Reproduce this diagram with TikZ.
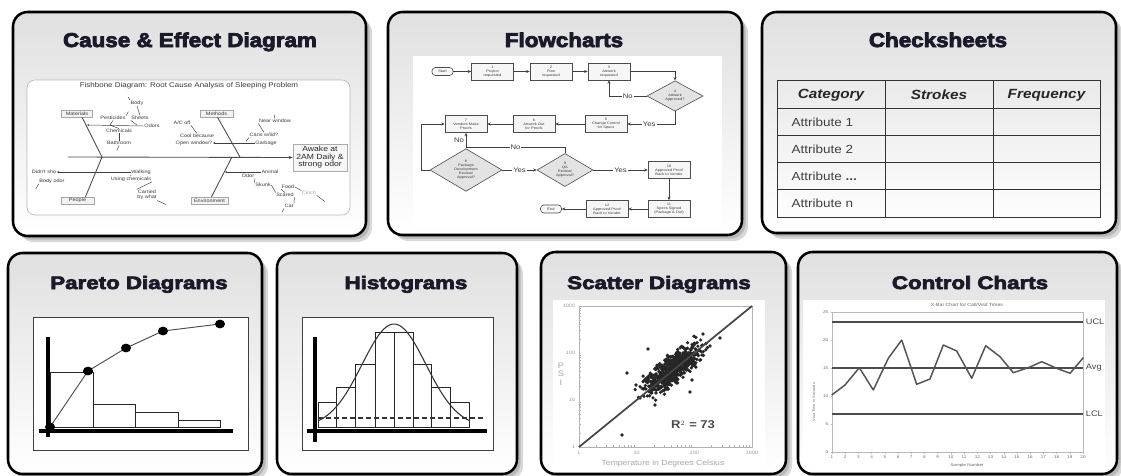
\documentclass[tikz,border=0pt]{standalone}
\usepackage{fontspec}
\setmainfont{Liberation Sans}
\newfontfamily\ttlA[FakeStretch=1.12,FakeBold=4]{Liberation Sans}
\newfontfamily\ttlB[FakeStretch=1.24,FakeBold=4]{Liberation Sans}
\newfontfamily\wide[FakeStretch=1.15]{Liberation Sans}
\usetikzlibrary{arrows.meta,shapes.geometric,calc}
\definecolor{titleink}{HTML}{1A1A2A}
\definecolor{shadowgray}{HTML}{B8B8B8}
\definecolor{panelgray}{HTML}{E0E0E0}
\definecolor{inkgray}{HTML}{3A3A3A}

\tikzset{
  panelshadow/.style={fill=shadowgray, rounded corners=11pt},
  panelshadowsoft/.style={fill=shadowgray!55, rounded corners=11pt},
  panelframe/.style={draw=black, line width=1.9pt, rounded corners=11pt, top color=panelgray, bottom color=white},
  toptitle/.style={anchor=base, text=titleink, inner sep=0pt, font=\ttlA\bfseries\fontsize{15}{18}\selectfont},
  bottitle/.style={anchor=base, text=titleink, inner sep=0pt, font=\ttlB\bfseries\fontsize{13.5}{16}\selectfont},
  % fishbone
  fbtxt/.style={font=\wide\fontsize{3.6}{4}\selectfont, inner sep=0.3pt, text=inkgray, align=center},
  fbcat/.style={draw=gray!70, fill=gray!10, line width=0.4pt, font=\wide\fontsize{3.6}{4}\selectfont, minimum height=5.2pt, inner sep=0.5pt, text=inkgray},
  fbeffect/.style={draw=gray!65, fill=gray!6, line width=0.5pt, font=\wide\fontsize{5.6}{5.6}\selectfont, align=center, minimum width=40.5pt, minimum height=20pt, inner sep=0.5pt, text=black!85},
  fbbone/.style={draw=black!70, line width=0.65pt},
  fbtwig/.style={draw=gray!50!black, line width=0.35pt},
  % flowchart
  fcbox/.style={draw=black!70, fill=gray!7, line width=0.45pt, minimum width=31.5pt, minimum height=12.75pt, inner sep=0pt, font=\wide\fontsize{2.6}{3}\selectfont, align=center, text=inkgray},
  fcdia/.style={diamond, draw=black!70, fill=gray!22, line width=0.45pt, inner sep=0pt, font=\wide\fontsize{2.6}{3}\selectfont, align=center, text=inkgray},
  fcterm/.style={draw=black!70, fill=gray!7, line width=0.45pt, rounded corners=2.5pt, minimum width=15.75pt, minimum height=6pt, inner sep=0pt, font=\wide\fontsize{2.6}{3}\selectfont, text=inkgray},
  fcarrow/.style={draw=black!75, line width=0.6pt, -{Stealth[length=2.6pt,width=2.2pt]}},
  fcline/.style={draw=black!75, line width=0.6pt},
  fclab/.style={font=\wide\fontsize{5}{5}\selectfont, fill=white, inner sep=0.8pt, text=inkgray},
  % checksheet
  tbline/.style={draw=black!80, line width=0.7pt},
  tbhead/.style={font=\wide\bfseries\itshape\fontsize{10}{12}\selectfont, text=black!85},
  tbcell/.style={anchor=west, font=\wide\fontsize{8.8}{10}\selectfont, text=black!75},
  % charts
  chartframe/.style={draw=gray!50!black, line width=0.6pt, fill=white},
  axisbar/.style={draw=black, line width=3pt},
  barline/.style={draw=black!85, line width=0.7pt},
  sctick/.style={font=\wide\fontsize{3.6}{4}\selectfont, text=gray!80, inner sep=0.5pt},
  cctick/.style={font=\wide\fontsize{3}{3.5}\selectfont, text=gray!80!black, inner sep=0.4pt},
  cclab/.style={anchor=west, font=\wide\fontsize{6}{7}\selectfont, text=black!75, inner sep=0.5pt},
}

\newcommand\qcpanel[4]{%
  \fill[panelshadowsoft] (#1+6,#2+6) rectangle (#3+6,#4+6);
  \fill[panelshadow] (#1+3.5,#2+3.5) rectangle (#3+3.5,#4+3.5);
  \path[panelframe] (#1,#2) rectangle (#3,#4);}

\begin{document}
\begin{tikzpicture}[x=0.75pt,y=-0.75pt]
\useasboundingbox (0,0) rectangle (1121,475);
\fill[white] (0,0) rectangle (1121,475);

% ---------- the seven panels ----------
\qcpanel{13}{12}{366}{236}
\qcpanel{388}{12}{742}{235}
\qcpanel{762}{12}{1116}{233}
\qcpanel{8}{253}{262}{474}
\qcpanel{277}{253}{517}{474}
\qcpanel{541}{252}{786}{474}
\qcpanel{798}{252}{1117}{474}

\node[toptitle] (tCause) at (190,47) {Cause \& Effect Diagram};
\node[toptitle] (tFlow) at (564,47) {Flowcharts};
\node[toptitle] (tCheck) at (938,47) {Checksheets};
\node[bottitle] (tPareto) at (139,289) {Pareto Diagrams};
\node[bottitle] (tHisto) at (406,289) {Histograms};
\node[bottitle] (tScatter) at (659,289) {Scatter Diagrams};
\node[bottitle] (tControl) at (970,289) {Control Charts};

% ---------- fishbone ----------
\path[fill=white, draw=gray!55, line width=0.5pt, rounded corners=6pt] (27,80) rectangle (350,215);
\node[fbtxt, font=\wide\fontsize{5.2}{6}\selectfont] (fbHead) at (189,85.5) {Fishbone Diagram: Root Cause Analysis of Sleeping Problem};

\node[fbeffect] (fbEff) at (320,157.5) {Awake at\\2AM Daily \&\\strong odor};
\coordinate (fbTail) at (68,157);
\draw[fbbone, -{Stealth[length=3pt,width=2.4pt]}] (fbTail) -- (fbEff.west);

\node[fbcat, minimum width=23pt] (fbMat) at (77,113.5) {Materials};
\node[fbcat, minimum width=25pt] (fbMeth) at (216.5,113.5) {Methods};
\node[fbcat, minimum width=25pt] (fbPeople) at (77.5,200.5) {People};
\node[fbcat, minimum width=28pt] (fbEnv) at (209.5,200.5) {Environment};
\coordinate (jm) at (102,157);
\coordinate (jt) at (240,157);
\coordinate (je) at (232,157);
\draw[fbbone] ($(fbMat.south)+(5,0)$) -- (jm);
\draw[fbbone] ($(fbPeople.north)+(8,0)$) -- (jm);
\draw[fbbone] ($(fbMeth.south)+(1,0)$) -- (jt);
\draw[fbbone] ($(fbEnv.north)+(2,0)$) -- (je);

% materials branch
\node[fbtxt] (fbBody) at (137,103) {Body};
\node[fbtxt] (fbPest) at (113,118) {Pesticides};
\node[fbtxt] (fbSheets) at (140,118) {Sheets};
\node[fbtxt] (fbOdors) at (152,126) {Odors};
\node[fbtxt] (fbChem) at (119,131) {Chemicals};
\node[fbtxt] (fbBath) at (119,143) {Bathroom};
\coordinate (mb1) at (87,125);
\coordinate (mb2) at (137,125);
\coordinate (mb3) at (110,125);
\draw[fbtwig, -{Stealth[length=1.6pt,width=1.4pt]}] (fbOdors.west) -- (mb1);
\draw[fbtwig] (fbBody.south) -- (fbSheets.north);
\draw[fbtwig] (fbSheets.south west) -- (mb2);
\draw[fbtwig] (fbPest.south) -- (mb3);
\draw[fbtwig] (fbChem.north) -- (mb3);
\draw[fbtwig] (fbChem.south) -- (fbBath.north);
\draw[fbtwig] (fbPest.north east) -- ++(2,-4);
\draw[fbtwig] (fbBody.north west) -- ++(-2,-3);
\draw[fbtwig] (fbBath.south) -- ++(-2,5);

% methods branch
\node[fbtxt] (fbAC) at (182,123) {A/C off};
\node[fbtxt] (fbCool) at (197,136) {Cool because};
\node[fbtxt] (fbOpen) at (194,143) {Open window?};
\node[fbtxt] (fbNear) at (275,121) {Near window};
\node[fbtxt] (fbCans) at (264,135) {Cans w/lid?};
\node[fbtxt] (fbGarb) at (266,143) {Garbage};
\draw[fbtwig, -{Stealth[length=1.6pt,width=1.4pt]}] (fbGarb.west) -- (fbOpen.east);
\draw[fbtwig] (fbAC.south east) -- (fbCool.north);
\draw[fbtwig] (fbNear.south west) -- (fbCans.north);
\draw[fbtwig] (fbNear.north) -- ++(-1,-4);
\draw[fbtwig] (fbCans.south west) -- ++(-3,4);

% people branch
\node[fbtxt] (fbDidnt) at (44,172) {Didn't sho};
\node[fbtxt] (fbBodyOdor) at (52,181) {Body odor};
\node[fbtxt] (fbWalk) at (141,172) {Walking};
\node[fbtxt] (fbUsing) at (131,179) {Using chemicals};
\node[fbtxt] (fbCarried) at (147,195) {Carried\\by what};
\draw[fbtwig, -{Stealth[length=1.6pt,width=1.4pt]}] (fbWalk.west) -- (fbDidnt.east);
\draw[fbtwig] (fbBodyOdor.south west) -- ++(-3,5);
\draw[fbtwig] (fbWalk.south west) -- (fbUsing.north);
\draw[fbtwig] (fbUsing.south east) -- (fbCarried.north west);
\draw[fbtwig] (fbCarried.south east) -- ++(9,4);

% environment branch
\node[fbtxt] (fbAnimal) at (270,172) {Animal};
\node[fbtxt] (fbOdor) at (248,176) {Odor};
\node[fbtxt] (fbSkunk) at (263,185) {Skunk};
\node[fbtxt] (fbFood) at (288,187) {Food};
\node[fbtxt] (fbScared) at (285,195) {Scared};
\node[fbtxt, text=gray!70] (fbCinch) at (309,193) {Cinch};
\node[fbtxt] (fbCat) at (289,206) {Cat};
\coordinate (eb1) at (225,172);
\draw[fbtwig, -{Stealth[length=1.6pt,width=1.4pt]}] (fbAnimal.west) -- (eb1);
\draw[fbtwig] (fbOdor.south east) -- (fbSkunk.north west);
\draw[fbtwig] (fbSkunk.east) -- (fbScared.north west);
\draw[fbtwig] (fbScared.north) -- (fbFood.south west);
\draw[fbtwig] (fbFood.east) -- (fbCinch.north west);
\draw[fbtwig] (fbCinch.south east) -- ++(8,6);
\draw[fbtwig] (fbScared.south east) -- (fbCat.north east);
\draw[fbtwig] (fbCat.south west) -- ++(-2,4);

% ---------- flowchart ----------
\fill[white] (413,56) rectangle (722,227);
\node[fcterm] (fStart) at (442.5,71.5) {Start};
\node[fcbox] (f1) at (492.5,71.5) {1\\Project\\requested};
\node[fcbox] (f2) at (551,71.5) {2\\Plan\\requested};
\node[fcbox] (f3) at (609,71.5) {3\\Artwork\\requested};
\node[fcdia, minimum width=42pt, minimum height=21pt] (f4) at (675,96) {4\\Artwork\\Approved?};
\node[fcbox] (f5) at (606,124) {5\\Change Control\\for Specs};
\node[fcbox] (f6) at (534,124) {6\\Artwork Out\\for Proofs};
\node[fcbox] (f7) at (466,124) {7\\Vendors Make\\Proofs};
\node[fcdia, minimum width=54pt, minimum height=27pt] (f8) at (466,170) {8\\Package\\Development\\Review/\\Approval?};
\node[fcdia, minimum width=42pt, minimum height=19.5pt] (f9) at (565,170) {9\\QA\\Review/\\Approval?};
\node[fcbox] (f10) at (669,170) {10\\Approved Proof\\Back to Vendor};
\node[fcbox] (f11) at (669,209) {11\\Specs Signed\\(Package \& Out)};
\node[fcbox] (f12) at (607,209) {12\\Approved Proof\\Back to Vendor};
\node[fcterm] (fEnd) at (551,209) {End};
\coordinate (fjn) at (466,147);

\draw[fcarrow] (fStart) -- (f1);
\draw[fcarrow] (f1) -- (f2);
\draw[fcarrow] (f2) -- (f3);
\draw[fcarrow] (f3.east) -| (f4.north);
\draw[fcarrow] (f4.west) -- node[fclab]{No} (f3.south |- f4.west) -- (f3.south);
\draw[fcarrow] (f4.south) |- node[fclab, pos=0.77]{Yes} (f5.east);
\draw[fcarrow] (f5) -- (f6);
\draw[fcarrow] (f6) -- (f7);
\draw[fcarrow] (f8.west) -- ++(-8,0) |- (f7.west);
\draw[fcarrow] (f8.north) -- node[fclab, fill=none, left=0.5pt]{No} (f7.south);
\draw[fcline] (f9.north) |- node[fclab, pos=0.75]{No} (fjn);
\draw[fcarrow] (f8.east) -- node[fclab]{Yes} (f9.west);
\draw[fcarrow] (f9.east) -- node[fclab]{Yes} (f10.west);
\draw[fcarrow] (f10) -- (f11);
\draw[fcarrow] (f11) -- (f12);
\draw[fcarrow] (f12) -- (fEnd);

% ---------- checksheet ----------
\draw[tbline] (777,80) rectangle (1100,217);
\foreach \xx in {885,993} \draw[tbline] (\xx,80) -- (\xx,217);
\foreach \yy in {108,135,162,189} \draw[tbline] (777,\yy) -- (1100,\yy);
\node[tbhead] (thCat) at (831,95) {Category};
\node[tbhead] (thStr) at (939,95) {Strokes};
\node[tbhead] (thFrq) at (1046.5,95) {Frequency};
\node[tbcell] (ta1) at (787,122) {Attribute 1};
\node[tbcell] (ta2) at (787,149) {Attribute 2};
\node[tbcell] (ta3) at (787,176) {Attribute \textbf{...}};
\node[tbcell] (ta4) at (787,203) {Attribute n};

% ---------- pareto ----------
\path[chartframe] (33,317) rectangle (248,450);
\draw[barline] (50,427) rectangle (93,372);
\draw[barline] (93,427) rectangle (135,404);
\draw[barline] (135,427) rectangle (178,412);
\draw[barline] (178,427) rectangle (220,420);
\draw[axisbar] (48,337) -- (48,437);
\draw[axisbar] (39,431) -- (233,431);
\coordinate (pc0) at (50,427);
\coordinate (pc1) at (88,371);
\coordinate (pc2) at (126,348);
\coordinate (pc3) at (163,331);
\coordinate (pc4) at (220,324);
\draw[draw=black!70, line width=0.7pt] (pc0) -- (pc1) -- (pc2) -- (pc3) -- (pc4);
\foreach \p in {pc0,pc1,pc2,pc3,pc4}
  \fill[black] (\p) ellipse[x radius=3.8pt, y radius=3.3pt];

% ---------- histogram ----------
\path[chartframe] (302,317) rectangle (493,450);
\foreach \xa/\xb/\yt in {318.3/336.7/402.3, 336.7/355.7/387.7, 355.7/375/364, 375/394/332.3,
                        394/413.3/332.3, 413.3/431.7/364, 431.7/450/387.7, 450/469/402.3}
  \draw[barline] (\xa,427) rectangle (\xb,\yt);
\draw[draw=black!80, line width=0.8pt, dash pattern=on 3.5pt off 2.5pt] (318,418) -- (486,418);
\draw[draw=black!80, line width=0.8pt, smooth, samples=70, domain=318:470]
  plot (\x, {427-103*exp(-((\x-394)^2)/2048)});
\draw[axisbar] (315,337) -- (315,442);
\draw[axisbar] (307,431) -- (487,431);

% ---------- scatter ----------
\fill[white] (553,300) rectangle (765,468);
\draw[gray!60, line width=0.5pt] (579,306) rectangle (752,447);
\foreach \d in {0,1,2} {
  \foreach \k in {2,...,9} {
    \draw[gray!60, line width=0.35pt] ({579+57.667*(\d+log10(\k))},447) -- ++(0,-2.2);
    \draw[gray!60, line width=0.35pt] (579,{447-47*(\d+log10(\k))}) -- ++(2.2,0);
  }
}
\foreach \v/\n in {1/0,10/1,100/2,1000/3} {
  \node[sctick, anchor=east] (sy\n) at (576,{447-47*\n}) {\v};
  \node[sctick, anchor=north] (sx\n) at ({579+57.667*\n},450) {\v};
}
\node[sctick, font=\wide\fontsize{6}{6.5}\selectfont, text=gray!70, align=center] (sPSI) at (561,374) {P\\S\\I};
\node[sctick, font=\wide\fontsize{5.6}{6}\selectfont, text=gray!70] (sTemp) at (663,464) {Temperature in Degrees Celsius};
\pgfmathsetseed{7}
\foreach \i in {1,...,650} {
  \pgfmathsetmacro\ta{17*(rand+rand+rand)}
  \pgfmathsetmacro\sb{7.5*(rand+rand)}
  \fill[black!85] ({673+0.775*\ta+0.632*\sb},{369-0.632*\ta+0.775*\sb}) circle[radius=1.35pt];
}
\foreach \px/\py in {627/373, 622/435, 703/334, 720/338, 692/380, 648/349, 702/355, 640/398, 655/405, 690/392, 636/385, 710/346}
  \fill[black!85] (\px,\py) circle[radius=1.35pt];
\coordinate (sO) at (579,447);
\coordinate (sE) at (752,306);
\draw[gray!55!black, line width=1.3pt] (sO) -- (sE);
\node[font=\wide\bfseries\fontsize{8.5}{9}\selectfont, text=black!70] (sR) at (693,425) {R$^{\scriptscriptstyle 2}$ = 73};

% ---------- control chart ----------
\fill[white] (803,300) rectangle (1105,469);
\node[cctick, font=\wide\fontsize{3.4}{4}\selectfont] (ccTitle) at (967,305) {X-Bar Chart for Call/Visit Times};
\draw[gray!55, line width=0.6pt] (832,312) rectangle (1083,452);
\foreach \v/\yy in {25/312,20/340,15/368,10/396,5/424,0/452} {
  \node[cctick, anchor=east] (ccy\v) at (829,\yy) {\v};
  \draw[gray!55, line width=0.35pt] (832,\yy) -- ++(-1.5,0);
}
\foreach \i in {1,...,20} {
  \node[cctick] (ccx\i) at ({832+(\i-1)*251/19},457) {\i};
  \draw[gray!55, line width=0.35pt] ({832+(\i-1)*251/19},452) -- ++(0,1.5);
}
\node[cctick, rotate=90, font=\wide\fontsize{2.6}{3}\selectfont] (ccYlab) at (814,402) {Visit Time in Seconds};
\node[cctick] (ccXlab) at (967,465) {Sample Number};
\coordinate (ccUa) at (832,322); \coordinate (ccUb) at (1083,322);
\coordinate (ccAa) at (832,368); \coordinate (ccAb) at (1083,368);
\coordinate (ccLa) at (832,414); \coordinate (ccLb) at (1083,414);
\draw[black!70, line width=1.2pt] (ccUa) -- (ccUb);
\draw[black!70, line width=1.2pt] (ccAa) -- (ccAb);
\draw[black!70, line width=1.2pt] (ccLa) -- (ccLb);
\node[cclab] (ccUCL) at (1085,322) {UCL};
\node[cclab] (ccAvg) at (1085,368) {Avg};
\node[cclab] (ccLCL) at (1085,414) {LCL};
\draw[gray!65!black, line width=1.1pt, line join=round]
  (831.7,395) -- (845,385) -- (859.3,367.7) -- (873.3,390) -- (888.3,358.3) -- (901.7,340)
  -- (916.7,384.3) -- (930,379) -- (943.3,345) -- (956.7,351) -- (971.7,378.3) -- (985.7,345.7)
  -- (1000,356.7) -- (1013.3,372.7) -- (1028.3,367.7) -- (1041.7,361.7) -- (1056.7,368.3)
  -- (1070,373.3) -- (1083.3,357.7);
\end{tikzpicture}
\end{document}
